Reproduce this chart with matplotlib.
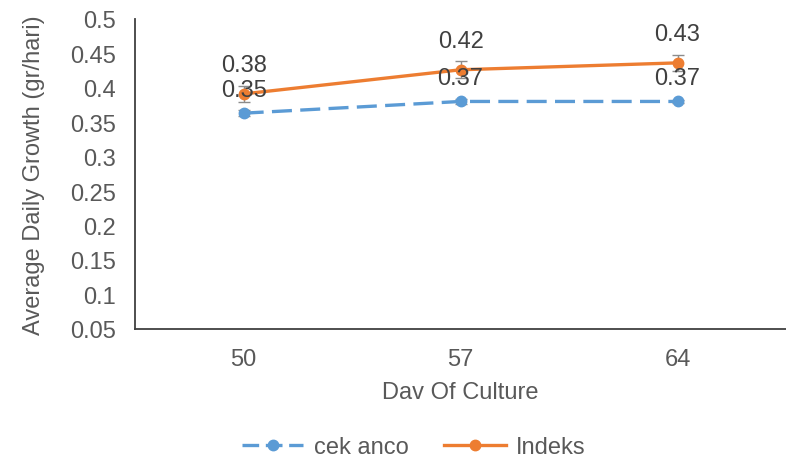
import matplotlib
matplotlib.use("Agg")
import matplotlib.pyplot as plt
from matplotlib.lines import Line2D

categories = ["50", "57", "64"]
cek_anco = [0.363, 0.380, 0.380]
indeks = [0.391, 0.426, 0.436]
cek_anco_err = [0.004, 0.003, 0.002]
indeks_err = [0.012, 0.012, 0.012]
cek_anco_labels = ["0.35", "0.37", "0.37"]
indeks_labels = ["0.38", "0.42", "0.43"]
yticks = [0.05, 0.1, 0.15, 0.2, 0.25, 0.3, 0.35, 0.4, 0.45, 0.5]
ytick_labels = ["0.05", "0.1", "0.15", "0.2", "0.25", "0.3", "0.35", "0.4", "0.45", "0.5"]

plt.rcParams["font.family"] = ["Liberation Sans", "DejaVu Sans"]

grey = "#595959"
blue = "#5B9BD5"
orange = "#ED7D31"
fs = 17

fig = plt.figure(figsize=(7.86, 4.6), dpi=100)
ax = fig.add_axes([0.172, 0.283, 0.828, 0.674])

x = list(range(len(categories)))
dash = (0, (6, 2.5))
ax.errorbar(x, cek_anco, yerr=cek_anco_err, color=blue, lw=2.4, ls=dash,
            marker="o", ms=7.5, ecolor="#8c8c8c", elinewidth=1, capsize=4, zorder=3)
ax.errorbar(x, indeks, yerr=indeks_err, color=orange, lw=2.4, marker="o", ms=7.5,
            ecolor="#8c8c8c", elinewidth=1, capsize=4, zorder=4)

for xi, v, t in zip(x, cek_anco, cek_anco_labels):
    ax.annotate(t, (xi, v), xytext=(0, 17), textcoords="offset points", ha="center",
                va="center", fontsize=fs, color="#404040", zorder=5)
for xi, v, t in zip(x, indeks, indeks_labels):
    ax.annotate(t, (xi, v), xytext=(0, 21), textcoords="offset points", ha="center",
                va="center", fontsize=fs, color="#404040", zorder=5)

ax.set_xlim(-0.5, 2.5)
ax.set_ylim(0.05, 0.5)
ax.set_xticks(x)
ax.set_xticklabels(categories)
ax.set_yticks(yticks)
ax.set_yticklabels(ytick_labels)
ax.tick_params(axis="both", length=0, labelsize=fs, colors=grey)
ax.tick_params(axis="y", pad=14)
ax.tick_params(axis="x", pad=14)
for s in ["top", "right"]:
    ax.spines[s].set_visible(False)
for s in ["left", "bottom"]:
    ax.spines[s].set_color("#404040")
    ax.spines[s].set_linewidth(1.3)

ax.set_xlabel("Dav Of Culture", fontsize=fs, color=grey, labelpad=8)
ax.set_ylabel("Average Daily Growth (gr/hari)", fontsize=fs, color=grey, labelpad=18)

handles = [
    Line2D([], [], color=blue, lw=2.4, ls=(0, (5, 2)), marker="o", ms=7.5),
    Line2D([], [], color=orange, lw=2.4, marker="o", ms=7.5),
]
leg = fig.legend(handles, ["cek anco", "Indeks"], loc="center",
                 bbox_to_anchor=(414 / 786, 1 - 448 / 460), ncol=2, frameon=False,
                 fontsize=fs, handlelength=2.6, columnspacing=1.5, handletextpad=0.45)
for t in leg.get_texts():
    t.set_color(grey)

fig.savefig("out.png", dpi=100)
